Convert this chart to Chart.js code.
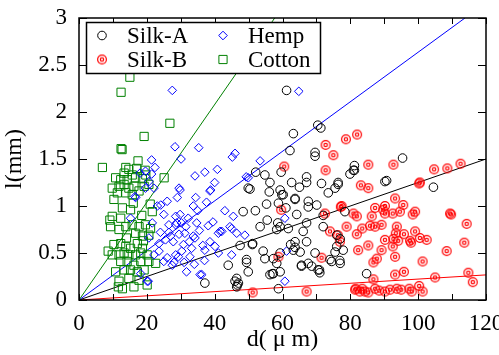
<!DOCTYPE html>
<html>
<head>
<meta charset="utf-8">
<script src="https://cdn.jsdelivr.net/npm/chart.js@4.4.0/dist/chart.umd.min.js"></script>
<style>
  html, body { margin: 0; padding: 0; background: #fff; }
</style>
</head>
<body>
<canvas id="fiberChart" width="499" height="355"></canvas>
<script>
// d (um), l (mm) pairs
const silkA = [
  [61.2,2.23],[70.4,1.86],[71.3,1.83],[63.2,1.77],[62.2,1.59],[69.6,1.57],[81.2,1.43],[95.4,1.51],[59.6,1.36],[52.1,1.36],
  [54.8,1.33],[79.9,1.34],[81.2,1.38],[67.1,1.31],[90.7,1.27],[104.5,1.20],[67.1,1.25],[71.5,1.24],[76.4,1.25],[62.7,1.25],
  [50.4,1.18],[56.3,1.25],[56.1,1.15],[59.3,1.17],[59.8,1.12],[63.7,1.07],[55.3,1.02],[58.8,1.03],[67.6,1.05],[67.6,0.99],
  [70.1,1.01],[73.5,1.14],[64.2,0.91],[72.0,0.90],[48.4,0.94],[58.6,0.82],[59.3,0.78],[61.7,0.76],[67.1,0.82],[72.0,0.78],
  [76.0,0.69],[77.0,0.65],[51.2,0.60],[62.4,0.59],[63.7,0.56],[67.1,0.62],[76.0,0.57],[54.3,0.52],[57.3,0.44],[59.3,0.50],
  [69.6,0.50],[74.0,0.43],[49.4,0.43],[49.9,0.30],[56.3,0.27],[57.0,0.28],[65.6,0.36],[68.6,0.36],[70.9,0.32],[71.0,0.29],
  [77.0,0.39],[84.8,0.28],[58.8,0.12],[47.5,0.58],[44.0,0.37],[46.5,0.23],[46.0,0.20],[46.7,0.16],[37.1,0.18],[49.9,1.19],
  [53.4,0.78],[58.3,0.75],[51.1,0.59],[49.4,0.40],[54.8,0.44],[47.0,0.18],[46.5,0.14],[57.3,0.28],[69.6,1.53],[80.9,1.38],
  [60.2,1.12],[63.7,1.08],[75.5,1.19],[76.4,1.23],[78.4,0.94],[90.2,1.26],[65.2,0.51],[63.2,0.53],[77.9,0.53],[75.5,0.51],
  [74.5,0.41],[76.9,0.42],[65.6,0.37],[67.6,0.39],[70.5,0.32],[59.3,0.30],[58.3,0.39],[66.1,0.73],[63.7,0.62],[55.5,0.85],
  [52.0,0.95],[61.0,0.98],[65.0,1.20]
];
const silkB = [
  [72.7,1.65],[78.7,1.71],[82.0,1.76],[75.0,1.54],[60.5,1.42],[85.3,1.44],[92.7,1.44],[104.7,1.39],[108.6,1.40],[112.5,1.45],
  [72.7,1.38],[100.3,1.24],[93.2,1.08],[90.2,1.00],[90.2,0.92],[92.5,0.92],[94.6,0.94],[95.6,1.01],[98.4,0.91],[99.1,0.94],
  [109.7,0.91],[114.3,0.81],[93.7,0.78],[93.4,0.71],[95.8,0.70],[99.1,0.73],[90.2,0.64],[92.7,0.65],[94.1,0.63],[97.6,0.63],
  [97.9,0.61],[100.5,0.66],[102.5,0.64],[92.5,0.57],[89.2,0.53],[113.6,0.61],[108.4,0.52],[93.2,0.46],[101.3,0.41],[93.2,0.27],
  [95.8,0.30],[105.0,0.24],[114.8,0.29],[116.1,0.19],[90.2,0.09],[91.7,0.11],[93.7,0.12],[97.4,0.12],[98.1,0.09],[100.3,0.15],
  [101.3,0.09],[83.1,1.22],[85.3,1.19],[77.2,0.99],[72.5,0.92],[59.6,0.96],[80.9,0.92],[87.3,0.98],[89.7,0.96],[81.9,0.89],
  [86.3,0.89],[78.9,0.78],[83.5,0.76],[85.8,0.79],[87.3,0.78],[89.2,0.80],[74.0,0.73],[76.3,0.69],[76.9,0.62],[81.9,0.70],
  [85.3,0.58],[82.3,0.53],[87.8,0.44],[86.8,0.40],[71.5,0.45],[58.8,0.46],[86.8,0.22],[67.1,0.09],[81.4,0.11],[82.8,0.09],
  [84.3,0.09],[87.3,0.12],[51.2,0.08],[77.4,1.00],[100.5,1.25],[109.4,0.92],[81.6,0.12],[83.5,0.12],[85.3,0.08],[88.5,0.10],
  [95.0,0.11]
];
const hemp = [
  [27.5,2.23],[64.8,2.22],[28.3,1.63],[35.3,1.62],[30.1,1.50],[21.4,1.49],[22.4,1.41],[21.4,1.34],[45.2,1.52],[46.0,1.56],
  [34.2,1.32],[37.1,1.36],[40.8,1.39],[49.3,1.31],[53.4,1.48],[29.8,1.17],[38.6,1.16],[34.4,1.09],[37.6,1.04],[29.8,0.91],
  [33.7,1.00],[28.8,0.82],[32.2,0.87],[34.7,0.82],[31.2,0.71],[33.7,0.68],[38.1,0.79],[41.1,0.71],[42.1,0.73],[45.5,0.89],
  [45.0,0.76],[46.5,0.71],[48.9,0.69],[30.8,0.59],[34.2,0.66],[30.3,0.52],[33.2,0.55],[37.1,0.53],[38.6,0.62],[40.1,0.57],
  [41.1,0.50],[45.0,0.48],[31.7,0.30],[35.7,0.27],[29.3,0.46],[32.7,0.46],[19.6,1.37],[20.6,1.26],[19.6,1.19],[16.7,1.09],
  [22.1,1.19],[23.1,1.00],[24.1,1.01],[26.0,1.05],[25.0,0.91],[28.5,0.89],[29.5,1.19],[29.0,1.09],[21.6,0.82],[26.5,0.80],
  [28.5,0.80],[15.2,0.87],[20.6,0.66],[23.6,0.60],[25.5,0.64],[27.0,0.68],[22.1,0.48],[25.0,0.41],[27.5,0.37],[28.5,0.48],
  [20.1,0.20],[18.2,0.28],[23.6,0.52],[38.8,1.17],[36.2,0.27],[44.5,0.78],[41.6,0.73],[60.7,0.87],[61.2,0.52],[60.7,0.20],
  [16.5,1.10],[20.4,0.20],[49.9,1.30],[26.5,0.72],[27.8,0.62],[29.5,0.70],[31.5,0.78],[32.5,0.62],[35.5,0.74],[36.5,0.58],
  [39.5,0.83],[26.0,0.45],[28.0,0.40],[31.0,0.40],[34.0,0.38],[37.0,0.42],[24.0,0.72],[30.2,0.82],[35.0,0.95],[40.0,1.25],
  [43.0,0.95],[18.0,1.35]
];
const cotton = [
  [15.0,2.37],[12.4,2.21],[26.8,1.88],[19.2,1.74],[12.4,1.61],[12.7,1.60],[6.9,1.41],[17.4,1.48],[13.8,1.41],[17.0,1.40],
  [19.5,1.38],[25.1,1.30],[14.7,1.39],[13.3,1.35],[15.7,1.33],[10.8,1.30],[12.3,1.28],[14.2,1.28],[16.7,1.30],[18.7,1.29],
  [19.7,1.33],[9.8,1.19],[11.8,1.21],[13.3,1.23],[14.7,1.19],[16.2,1.21],[17.7,1.16],[19.2,1.21],[11.3,1.14],[13.8,1.14],
  [15.7,1.12],[20.6,1.23],[12.8,0.98],[15.2,0.96],[9.8,0.89],[12.3,0.87],[9.3,0.78],[11.8,0.75],[13.8,0.78],[15.7,0.80],
  [17.7,0.78],[19.6,0.80],[21.1,0.76],[16.7,0.71],[18.7,0.68],[20.6,0.69],[10.3,0.59],[12.3,0.60],[13.8,0.57],[15.2,0.55],
  [17.2,0.60],[18.7,0.55],[9.8,0.48],[11.8,0.48],[13.3,0.50],[14.7,0.48],[16.7,0.48],[18.2,0.50],[20.1,0.48],[12.3,0.41],
  [14.2,0.41],[16.2,0.37],[18.2,0.41],[20.6,0.41],[10.8,0.30],[13.3,0.32],[15.2,0.32],[17.2,0.30],[19.2,0.32],[11.8,0.20],
  [14.7,0.23],[17.7,0.21],[12.8,0.12],[16.2,0.14],[20.1,0.16],[22.6,0.39],[21.6,0.94],[10.3,1.07],[9.1,0.85],[8.6,0.52],
  [11.6,0.14],[14.0,0.66],[19.0,0.63],[16.0,1.03],[21.0,1.02],[18.5,0.90]
];

// fitted lines through the origin: [x end, y end]
const cottonFit = [[0, 0], [57.7, 3]];
const hempFit = [[0, 0], [113.8, 3]];
const silkAFit = [[0, 0], [120, 1.5]];
const silkBFit = [[0, 0], [120, 0.267]];

const xTicks = [0, 20, 40, 60, 80, 100, 120];
const yTicks = [0, 0.5, 1, 1.5, 2, 2.5, 3];

const toXY = (arr) => arr.map(([x, y]) => ({ x, y }));
const serif = "Liberation Serif";
Chart.defaults.font.family = serif;
Chart.defaults.color = "#000";

// red circle with a dot in it
function ringDot(color) {
  const c = document.createElement("canvas");
  c.width = 12;
  c.height = 12;
  const g = c.getContext("2d");
  g.strokeStyle = color;
  g.lineWidth = 1.2;
  g.beginPath();
  g.arc(6, 6, 4.4, 0, Math.PI * 2);
  g.stroke();
  g.beginPath();
  g.arc(6, 6, 1.7, 0, Math.PI * 2);
  g.stroke();
  return c;
}
const silkBMark = ringDot("#ff0000");

function fitLine(label, pts, color) {
  return {
    type: "line",
    label: label,
    data: toXY(pts),
    borderColor: color,
    borderWidth: 1,
    pointRadius: 0,
    fill: false,
    showLine: true,
    inLegend: false,
  };
}

// boxed frame with inward ticks on all sides
const frameTicks = {
  id: "frameTicks",
  afterDatasetsDraw(chart) {
    const { ctx, chartArea: a, scales } = chart;
    ctx.save();
    ctx.strokeStyle = "#000";
    ctx.lineWidth = 1;
    ctx.beginPath();
    for (let v = 0; v <= 120; v += 10) {
      const px = Math.round(scales.x.getPixelForValue(v)) + 0.5;
      ctx.moveTo(px, a.bottom);
      ctx.lineTo(px, a.bottom - 6);
      ctx.moveTo(px, a.top);
      ctx.lineTo(px, a.top + 6);
    }
    yTicks.forEach((v) => {
      const py = Math.round(scales.y.getPixelForValue(v)) + 0.5;
      ctx.moveTo(a.left, py);
      ctx.lineTo(a.left + 8, py);
      ctx.moveTo(a.right, py);
      ctx.lineTo(a.right - 8, py);
    });
    ctx.stroke();
    ctx.lineWidth = 1.5;
    ctx.strokeRect(a.left, a.top, a.right - a.left, a.bottom - a.top);
    ctx.restore();
  },
};

// 2 x 2 legend box in the top left corner
const boxLegend = {
  id: "boxLegend",
  afterDraw(chart) {
    const { ctx, chartArea: a } = chart;
    const items = chart.data.datasets.filter((d) => d.inLegend !== false);
    const x0 = a.left + 7.5;
    const y0 = a.top + 4.5;
    ctx.save();
    ctx.fillStyle = "#fff";
    ctx.fillRect(x0, y0, 234, 51);
    ctx.strokeStyle = "#000";
    ctx.lineWidth = 1.5;
    ctx.strokeRect(x0, y0, 234, 51);
    ctx.font = "23px " + serif;
    ctx.textBaseline = "middle";
    items.forEach((d, i) => {
      const col = Math.floor(i / 2);
      const row = i % 2;
      const sx = x0 + 15.5 + col * 121;
      const sy = y0 + 13 + row * 24;
      ctx.strokeStyle = d.borderColor;
      ctx.lineWidth = 1;
      ctx.beginPath();
      if (d.pointStyle === "circle") {
        ctx.arc(sx, sy, d.pointRadius, 0, Math.PI * 2);
      } else if (d.pointStyle === "rectRot") {
        const r = d.pointRadius;
        ctx.moveTo(sx, sy - r);
        ctx.lineTo(sx + r, sy);
        ctx.lineTo(sx, sy + r);
        ctx.lineTo(sx - r, sy);
        ctx.closePath();
      } else if (d.pointStyle === "rect") {
        const s = d.pointRadius * Math.SQRT1_2;
        ctx.rect(sx - s, sy - s, 2 * s, 2 * s);
      } else {
        ctx.drawImage(d.pointStyle, sx - d.pointStyle.width / 2, sy - d.pointStyle.height / 2);
      }
      ctx.stroke();
      ctx.fillStyle = "#000";
      ctx.fillText(d.label, sx + 25, sy + 1);
    });
    ctx.restore();
  },
};

new Chart(document.getElementById("fiberChart"), {
  type: "scatter",
  data: {
    datasets: [
      {
        label: "Silk-A",
        data: toXY(silkA),
        pointStyle: "circle",
        pointRadius: 4.3,
        borderColor: "#000000",
        borderWidth: 1,
        backgroundColor: "rgba(0,0,0,0)",
      },
      {
        label: "Silk-B",
        data: toXY(silkB),
        pointStyle: silkBMark,
        pointRadius: 5,
        borderColor: "#ff0000",
        backgroundColor: "rgba(0,0,0,0)",
      },
      {
        label: "Hemp",
        data: toXY(hemp),
        pointStyle: "rectRot",
        pointRadius: 4.3,
        borderColor: "#0000ff",
        borderWidth: 1,
        backgroundColor: "rgba(0,0,0,0)",
      },
      {
        label: "Cotton",
        data: toXY(cotton),
        pointStyle: "rect",
        pointRadius: 5.8,
        borderColor: "#008000",
        borderWidth: 1,
        backgroundColor: "rgba(0,0,0,0)",
      },
      fitLine("Cotton fit", cottonFit, "#008000"),
      fitLine("Hemp fit", hempFit, "#0000ff"),
      fitLine("Silk-A fit", silkAFit, "#000000"),
      fitLine("Silk-B fit", silkBFit, "#ff0000"),
    ],
  },
  options: {
    responsive: false,
    animation: false,
    layout: { padding: { left: 0, top: 18, right: 13, bottom: 0 } },
    plugins: {
      legend: { display: false },
      tooltip: { enabled: false },
    },
    scales: {
      x: {
        type: "linear",
        min: 0,
        max: 120,
        afterBuildTicks: (s) => { s.ticks = xTicks.map((v) => ({ value: v })); },
        afterFit: (s) => { s.height = 55; s.paddingRight = 0; s.paddingLeft = 0; },
        grid: { display: false },
        border: { display: false },
        ticks: {
          color: "#000",
          padding: 2,
          maxRotation: 0,
          callback: (v) => String(v),
          font: { family: serif, size: 23 },
        },
        title: {
          display: true,
          text: "d( μ m)",
          color: "#000",
          padding: { top: 0, bottom: 1 },
          font: { family: serif, size: 24 },
        },
      },
      y: {
        type: "linear",
        min: 0,
        max: 3,
        afterBuildTicks: (s) => { s.ticks = yTicks.map((v) => ({ value: v })); },
        afterFit: (s) => { s.width = 79; },
        grid: { display: false },
        border: { display: false },
        ticks: {
          color: "#000",
          padding: 4,
          callback: (v) => String(v),
          font: { family: serif, size: 23 },
        },
        title: {
          display: true,
          text: "l(mm)",
          color: "#000",
          padding: { top: 0, bottom: 8 },
          font: { family: serif, size: 24 },
        },
      },
    },
  },
  plugins: [frameTicks, boxLegend],
});
</script>
</body>
</html>
